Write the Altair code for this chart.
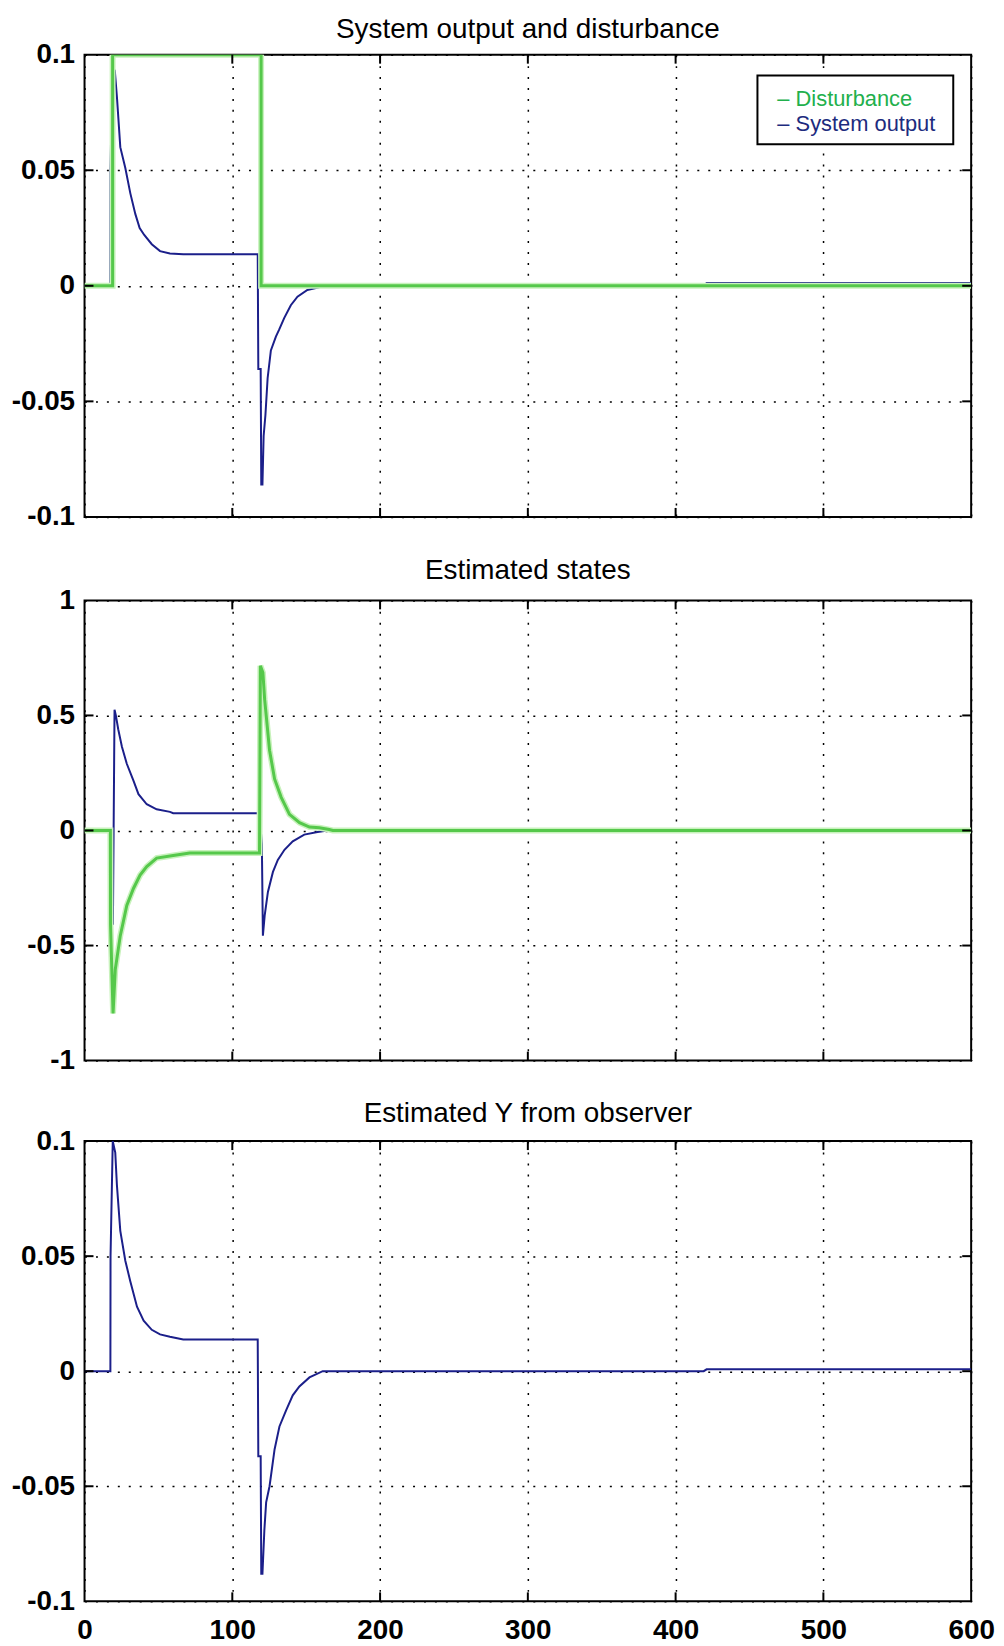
import altair as alt
import pandas as pd

# ---------------- data ----------------
X_TICKS = [0, 100, 200, 300, 400, 500, 600]
Y_TICKS_SMALL = [-0.1, -0.05, 0, 0.05, 0.1]
Y_TICKS_BIG = [-1, -0.5, 0, 0.5, 1]
X_INNER_TICKS = [100, 200, 300, 400, 500]
Y_INNER_SMALL = [-0.05, 0, 0.05]
Y_INNER_BIG = [-0.5, 0, 0.5]

TITLES = ["System output and disturbance", "Estimated states", "Estimated Y from observer"]
LEGEND_LABELS = ["\u2013 Disturbance", "\u2013 System output"]

# Panel 1: disturbance (green)
DIST_T = [0, 19, 19, 119.5, 119.5, 600]
DIST_V = [0, 0, 0.1, 0.1, 0, 0]

# Panel 1: system output (blue)
OUT_T = [0, 17.5, 17.6, 18.8, 20.5, 22.0, 24.2, 27.6, 31.0, 34.4, 37.3, 40.4, 45.5, 51.1,
         57.8, 66.8, 117.2, 117.6, 119.2, 119.6, 120.4, 121.2, 122.4, 123.9, 126.1, 129.5,
         131.7, 135.1, 139.6, 144.1, 150.8, 158.7, 161.0, 419, 421, 600]
OUT_V = [0, 0, 0.05, 0.095, 0.093, 0.081, 0.060, 0.051, 0.040, 0.031, 0.025, 0.022, 0.018, 0.015,
         0.014, 0.0137, 0.0137, -0.036, -0.036, -0.086, -0.086, -0.065, -0.056, -0.040, -0.028, -0.022,
         -0.019, -0.014, -0.0084, -0.0047, -0.0018, -0.0007, 0, 0, 0.0012, 0.0012]

# Panel 2: estimated state 1 (blue)
S1_T = [0, 17.5, 19.2, 20.3, 21.2, 22.8, 25.3, 28.6, 33.1, 36.5, 42.1, 48.8, 57.8, 60.0,
        118.4, 120.0, 120.7, 121.9, 124.1, 127.5, 130.8, 135.3, 140.9, 148.7, 157.7, 164.5, 600]
S1_V = [0, 0, -0.41, 0.525, 0.50, 0.44, 0.364, 0.29, 0.217, 0.158, 0.114, 0.092, 0.081, 0.075,
        0.075, -0.06, -0.457, -0.37, -0.267, -0.18, -0.128, -0.084, -0.047, -0.018, -0.007, 0, 0]

# Panel 2: estimated state 2 (green)
S2_T = [0, 17.5, 17.6, 19.3, 20.8, 24.2, 28.6, 33.1, 37.6, 42.1, 48.8, 60.0, 71.2, 118.4,
        119.0, 120.7, 121.9, 123.0, 125.2, 128.6, 133.1, 138.7, 145.5, 152.2, 158.9, 165.6, 168.0, 600]
S2_V = [0, 0, -0.41, -0.795, -0.604, -0.457, -0.326, -0.252, -0.194, -0.157, -0.12, -0.109, -0.098, -0.098,
        0.716, 0.686, 0.569, 0.496, 0.349, 0.224, 0.144, 0.07, 0.034, 0.015, 0.012, 0.004, 0, 0]

# Panel 3: estimated Y from observer (blue)
EST_T = [0, 17.5, 17.6, 19.1, 20.8, 21.9, 24.2, 27.6, 31.0, 35.5, 40.0, 45.5, 51.1, 57.8, 66.8,
         117.2, 117.6, 119.2, 119.6, 120.4, 121.7, 122.9, 125.2, 128.6, 131.9, 136.4, 140.9,
         145.4, 152.2, 161.2, 419, 421, 600]
EST_V = [0, 0, 0.05, 0.1, 0.095, 0.081, 0.061, 0.048, 0.039, 0.028, 0.022, 0.018, 0.016, 0.015, 0.0138,
         0.0138, -0.037, -0.037, -0.088, -0.088, -0.069, -0.057, -0.05, -0.034, -0.024, -0.017, -0.0105,
         -0.0066, -0.0027, 0, 0, 0.0008, 0.0008]

# ---------------- style ----------------
W = 892
FONT = "Liberation Sans"
BLUE = "#1b1f8a"
GREEN = "#55c84b"
HALO = "#c8f2bc"
LEG_GREEN = "#22b04c"
LEG_BLUE = "#1d2b7e"
TICK_LEN = 9


def series(t, v):
    return pd.DataFrame({"t": t, "v": v, "i": list(range(len(t)))})


def panel(title, height, ydomain, yticks, yinner, blues, greens, show_x, title_offset, legend=False):
    xs = alt.Scale(domain=[0, 600], nice=False, zero=False)
    ys = alt.Scale(domain=ydomain, nice=False, zero=False)
    xaxis = alt.Axis(values=X_TICKS, grid=True, labels=show_x, ticks=False, domain=False,
                     title=None, labelFlush=False, labelPadding=15)
    yaxis = alt.Axis(values=yticks, grid=True, ticks=False, domain=False, title=None,
                     labelExpr="datum.value + ''", labelPadding=10, labelBaseline="middle")
    layers = []
    for df in blues:
        layers.append(
            alt.Chart(df).mark_line(color=BLUE, strokeWidth=2, clip=True).encode(
                x=alt.X("t:Q", scale=xs, axis=xaxis),
                y=alt.Y("v:Q", scale=ys, axis=yaxis),
                order="i:Q",
            )
        )
    for df in greens:
        for col, wd in ((HALO, 6), (GREEN, 3)):
            layers.append(
                alt.Chart(df).mark_line(color=col, strokeWidth=wd, clip=True).encode(
                    x=alt.X("t:Q", scale=xs, axis=xaxis),
                    y=alt.Y("v:Q", scale=ys, axis=yaxis),
                    order="i:Q",
                )
            )
    # MATLAB-style inward ticks
    xt = pd.DataFrame({"t": X_INNER_TICKS})
    yt = pd.DataFrame({"v": yinner})
    for y0, y1 in ((0, TICK_LEN), (height - TICK_LEN, height)):
        layers.append(
            alt.Chart(xt).mark_rule(color="black", strokeWidth=2).encode(
                x=alt.X("t:Q", scale=xs, axis=xaxis), y=alt.value(y0), y2=alt.value(y1)
            )
        )
    for x0, x1 in ((0, TICK_LEN), (W - TICK_LEN, W)):
        layers.append(
            alt.Chart(yt).mark_rule(color="black", strokeWidth=2).encode(
                y=alt.Y("v:Q", scale=ys, axis=yaxis), x=alt.value(x0), x2=alt.value(x1)
            )
        )
    if legend:
        box = pd.DataFrame({"k": [0]})
        layers.append(
            alt.Chart(box).mark_rect(fill="white", stroke="black", strokeWidth=2).encode(
                x=alt.value(677), x2=alt.value(874), y=alt.value(21), y2=alt.value(90)
            )
        )
        for lab, col, yy in ((LEGEND_LABELS[0], LEG_GREEN, 45), (LEGEND_LABELS[1], LEG_BLUE, 70)):
            layers.append(
                alt.Chart(pd.DataFrame({"lab": [lab]})).mark_text(
                    align="left", baseline="middle", font=FONT, fontSize=22, color=col
                ).encode(text="lab:N", x=alt.value(697), y=alt.value(yy))
            )
    return alt.layer(*layers).properties(
        width=W,
        height=height,
        title=alt.TitleParams(title, font=FONT, fontSize=28, fontWeight="normal",
                              color="black", offset=title_offset, anchor="middle"),
    )


p1 = panel(TITLES[0], 465, [-0.1, 0.1], Y_TICKS_SMALL, Y_INNER_SMALL,
           [series(OUT_T, OUT_V)], [series(DIST_T, DIST_V)], False, -3, legend=True)
p2 = panel(TITLES[1], 463, [-1, 1], Y_TICKS_BIG, Y_INNER_BIG,
           [series(S1_T, S1_V)], [series(S2_T, S2_V)], False, 2)
p3 = panel(TITLES[2], 463, [-0.1, 0.1], Y_TICKS_SMALL, Y_INNER_SMALL,
           [series(EST_T, EST_V)], [], True, -1)

chart = (
    alt.vconcat(p1, p2, p3, spacing=24)
    .properties(padding={"left": 2, "top": 2, "right": 0, "bottom": 0}, background="white")
    .configure_view(stroke="black", strokeWidth=2, fill="white")
    .configure_axis(
        gridColor="black", gridDash=[2, 9], gridWidth=1.5, gridOpacity=1,
        labelFont=FONT, labelFontSize=28, labelFontWeight="bold", labelColor="black",
    )
)

chart.save("out.html", embed_options={"renderer": "svg", "actions": False})
